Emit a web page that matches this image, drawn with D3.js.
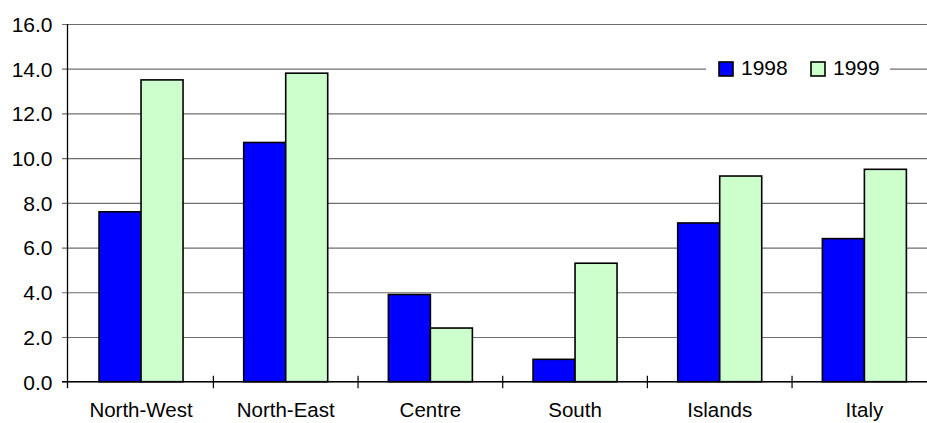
<!DOCTYPE html>
<html>
<head>
<meta charset="utf-8">
<script src="https://cdn.jsdelivr.net/npm/d3@7/dist/d3.min.js"></script>
<style>
  html, body { margin: 0; padding: 0; background: #fff; }
  svg { display: block; }
  text { font-family: "Liberation Sans", Arial, sans-serif; fill: #000; }
</style>
</head>
<body>
<svg id="chart" width="927" height="423"></svg>
<script>
// Regional values, 1998 vs 1999
const categories = ["North-West", "North-East", "Centre", "South", "Islands", "Italy"];
const seriesNames = ["1998", "1999"];
const values1998 = [7.6, 10.7, 3.9, 1.0, 7.1, 6.4];
const values1999 = [13.5, 13.8, 2.4, 5.3, 9.2, 9.5];
const yTicks = [0, 2, 4, 6, 8, 10, 12, 14, 16];
const colors = ["#0000ff", "#ccffcc"];

const svg = d3.select("#chart");
const W = 927, H = 423;
const axisX = 67.5;
const plotTop = 24, plotBottom = 381.7;
const bandStart = 68.7, bandW = 144.67;

const rows = categories.map((c, i) => ({ cat: c, vals: [values1998[i], values1999[i]] }));

const y = d3.scaleLinear().domain([0, 16]).range([plotBottom, plotTop]);
const x = d3.scaleBand().domain(categories)
  .range([bandStart, bandStart + bandW * categories.length]).padding(0);
const groupW = 84;
const xs = d3.scaleBand().domain(seriesNames)
  .range([(x.bandwidth() - groupW) / 2, (x.bandwidth() + groupW) / 2]).padding(0);

// Horizontal gridlines with left ticks
const yAxis = d3.axisLeft(y).tickValues(yTicks).tickFormat(d3.format(".1f"))
  .tickSize(-(W - axisX)).tickSizeOuter(0).tickPadding(10);
const gy = svg.append("g").attr("transform", `translate(${axisX},0)`).call(yAxis);
gy.select(".domain").remove();
gy.selectAll(".tick line").attr("stroke", "#6e6e6e").attr("stroke-width", 1.2)
  .attr("x1", -5.5);
gy.selectAll(".tick text").attr("font-size", 21).attr("dy", "0.35em")
  .attr("x", -15);

// Bars
const groups = svg.append("g").selectAll("g").data(rows).join("g")
  .attr("transform", d => `translate(${x(d.cat)},0)`);
groups.selectAll("rect").data(d => d.vals.map((v, k) => ({ v, k })))
  .join("rect")
  .attr("x", d => xs(seriesNames[d.k]))
  .attr("width", xs.bandwidth())
  .attr("y", d => y(d.v))
  .attr("height", d => y(0) - y(d.v))
  .attr("fill", d => colors[d.k])
  .attr("stroke", "#000")
  .attr("stroke-width", 1.6);

// Vertical axis line
svg.append("line")
  .attr("x1", axisX).attr("x2", axisX)
  .attr("y1", y(16)).attr("y2", y(0))
  .attr("stroke", "#000").attr("stroke-width", 1.3);

// Category axis
const xAxis = d3.axisBottom(x).tickSize(0).tickPadding(21);
const gx = svg.append("g").attr("transform", `translate(0,${plotBottom})`).call(xAxis);
gx.select(".domain").remove();
gx.selectAll(".tick text").attr("font-size", 20.5);
svg.append("line")
  .attr("x1", axisX - 5.5).attr("x2", W)
  .attr("y1", plotBottom).attr("y2", plotBottom)
  .attr("stroke", "#000").attr("stroke-width", 1.3);
// Band separators
const seps = d3.range(1, categories.length).map(i => bandStart + i * x.bandwidth());
svg.append("g").selectAll("line").data(seps).join("line")
  .attr("x1", d => d).attr("x2", d => d)
  .attr("y1", plotBottom - 6).attr("y2", plotBottom + 6.5)
  .attr("stroke", "#000").attr("stroke-width", 1.2);
svg.append("line")
  .attr("x1", axisX).attr("x2", axisX)
  .attr("y1", plotBottom).attr("y2", plotBottom + 6.5)
  .attr("stroke", "#000").attr("stroke-width", 1.3);

// Legend
const lg = svg.append("g");
lg.append("rect").attr("x", 706).attr("y", 56).attr("width", 184).attr("height", 26)
  .attr("fill", "#fff");
const legendX = [719, 811];
seriesNames.forEach((s, k) => {
  lg.append("rect").attr("x", legendX[k]).attr("y", 62).attr("width", 14).attr("height", 14)
    .attr("fill", colors[k]).attr("stroke", "#000").attr("stroke-width", 1.6);
  lg.append("text").attr("x", legendX[k] + 22).attr("y", 74.5)
    .attr("font-size", 21).text(s);
});
</script>
</body>
</html>
